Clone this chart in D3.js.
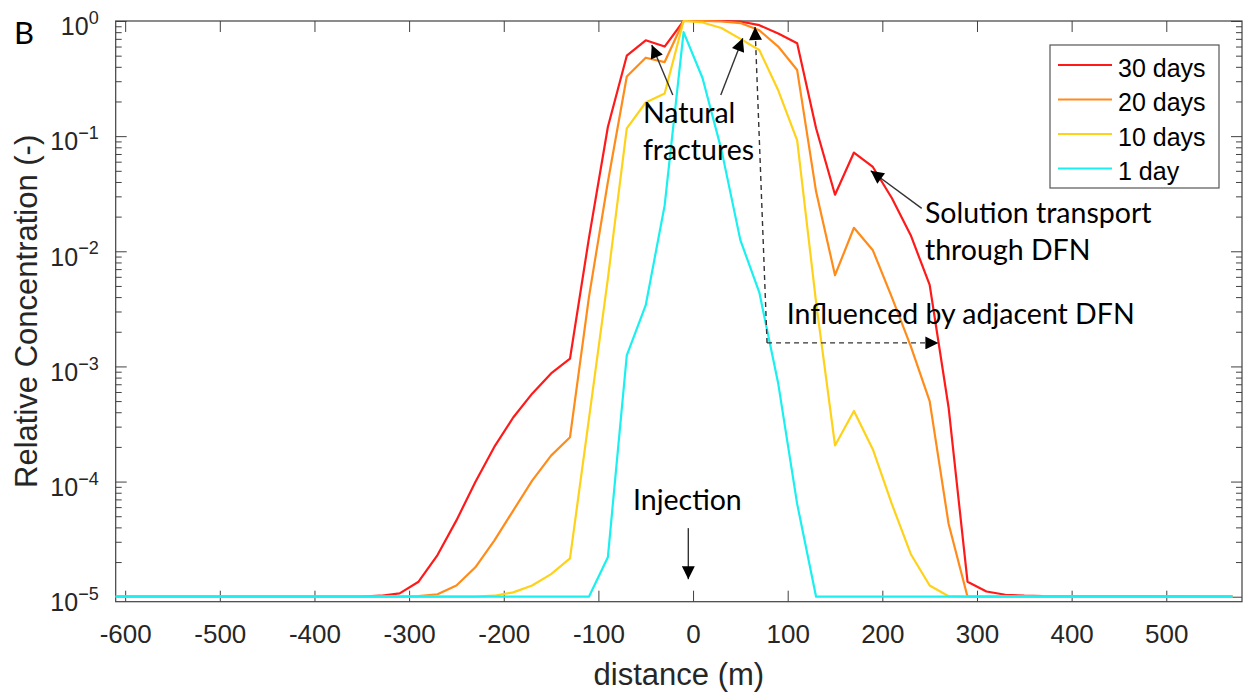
<!DOCTYPE html>
<meta charset="utf-8">
<style>

body { margin: 0; background: #fff; }

.axis text {
  font-family: "Liberation Sans", Arial, sans-serif;
  fill: #262626;
}

.axis line, .axis path { stroke: #404040; }

.curve {
  fill: none;
  stroke-width: 2.2;
  stroke-linejoin: round;
}

.note {
  font-family: Lato, "Open Sans", sans-serif;
  font-size: 28.5px;
  fill: #000;
}

.pointer { stroke: #333; stroke-width: 1.4; fill: none; }
.dashed { stroke: #333; stroke-width: 1.4; stroke-dasharray: 5,4; fill: none; }

</style>
<svg width="1243" height="696"></svg>
<script src="https://d3js.org/d3.v7.min.js"></script>
<script>

// distance (m) of the model cells shown; the flat 1e-5 tails are kept only at their ends
var distance = [-610, -350, -330, -310, -290, -270, -250, -230, -210, -190, -170, -150,
  -130, -110, -90, -70, -50, -30, -10, 10, 30, 50, 70, 90, 110, 130, 150, 170, 190,
  210, 230, 250, 270, 290, 310, 330, 350, 370, 570];

var days30 = [1e-5, 1e-5, 1.02e-5, 1.07e-5, 1.35e-5, 2.3e-5, 4.6e-5, 9.9e-5, 2.0e-4, 3.6e-4,
  5.8e-4, 8.7e-4, 1.17e-3, 1.3e-2, 0.12, 0.5, 0.68, 0.6, 1.0, 1.0, 1.0, 0.99, 0.92, 0.78,
  0.64, 0.117, 0.031, 0.072, 0.054, 0.029, 0.0138, 0.0051, 4.4e-4, 1.35e-5, 1.11e-5,
  1.04e-5, 1.02e-5, 1.01e-5, 1e-5];

var days20 = [1e-5, 1e-5, 1e-5, 1e-5, 1.01e-5, 1.05e-5, 1.25e-5, 1.8e-5, 3.07e-5, 5.6e-5,
  1.02e-4, 1.68e-4, 2.43e-4, 4e-3, 0.04, 0.33, 0.48, 0.44, 1.0, 1.0, 0.99, 0.96, 0.83, 0.6,
  0.375, 0.033, 0.0062, 0.016, 0.0102, 0.004, 0.0015, 5e-4, 4.3e-5, 1e-5, 1e-5,
  1e-5, 1e-5, 1e-5, 1e-5];

var days10 = [1e-5, 1e-5, 1e-5, 1e-5, 1e-5, 1e-5, 1e-5, 1e-5, 1.02e-5, 1.09e-5,
  1.25e-5, 1.57e-5, 2.15e-5, 3.5e-4, 5.8e-3, 0.117, 0.196, 0.235, 1.0, 0.97, 0.87, 0.7, 0.56, 0.25,
  0.092, 3.6e-3, 2.06e-4, 4.1e-4, 1.9e-4, 6.4e-5, 2.35e-5, 1.25e-5, 1.01e-5, 1e-5, 1e-5,
  1e-5, 1e-5, 1e-5, 1e-5];

var day1 = [1e-5, 1e-5, 1e-5, 1e-5, 1e-5, 1e-5, 1e-5, 1e-5, 1e-5, 1e-5,
  1e-5, 1e-5, 1e-5, 1e-5, 2.2e-5, 1.25e-3, 3.4e-3, 0.025, 0.8, 0.32, 0.076, 0.0125, 4.4e-3, 7.1e-4,
  6.4e-5, 1e-5, 1e-5, 1e-5, 1e-5, 1e-5, 1e-5, 1e-5, 1e-5, 1e-5, 1e-5,
  1e-5, 1e-5, 1e-5, 1e-5];

var seriesNames = ["30 days", "20 days", "10 days", "1 day"];
var seriesValues = [days30, days20, days10, day1];
var seriesColors = ["#ff1a1a", "#ff8c1a", "#ffd21a", "#1af0f0"];

var xTicks = [-600, -500, -400, -300, -200, -100, 0, 100, 200, 300, 400, 500];
var yMajor = [1e-5, 1e-4, 1e-3, 1e-2, 1e-1, 1];

var svg = d3.select("svg");

var plotLeft = 115.7, plotRight = 1242, plotTop = 21, plotBottom = 601.7;

var x = d3.scaleLinear()
    .domain([-610, 580])
    .range([plotLeft, plotRight]);

var y = d3.scaleLog()
    .domain([9.05e-6, 1])
    .range([plotBottom, plotTop]);

var yMinor = y.ticks().filter(function(d) {
  return !yMajor.some(function(m) { return Math.abs(m - d) / m < 1e-6; });
});

// axes, ticks pointing inwards like MATLAB
svg.append("g")
    .attr("class", "axis")
    .attr("transform", "translate(0," + plotBottom + ")")
    .call(d3.axisBottom(x).tickValues(xTicks).tickSizeInner(-11).tickSizeOuter(0).tickPadding(23)
      .tickFormat(function(d) { return String(d); }))
    .attr("font-size", 26)
    .select(".domain").remove();

svg.append("g")
    .attr("class", "axis")
    .attr("transform", "translate(0," + plotTop + ")")
    .call(d3.axisTop(x).tickValues(xTicks).tickSizeInner(-11).tickSizeOuter(0).tickFormat(""))
    .select(".domain").remove();

var gy = svg.append("g")
    .attr("class", "axis")
    .attr("transform", "translate(" + plotLeft + ",0)")
    .call(d3.axisLeft(y).tickValues(yMajor).tickSizeInner(-11).tickSizeOuter(0).tickPadding(17))
    .attr("font-size", 25);
gy.select(".domain").remove();

gy.selectAll(".tick text")
    .attr("dy", "0.55em")
    .text(null)
    .each(function(d) {
      var e = Math.round(Math.log10(d));
      var t = d3.select(this);
      t.append("tspan").text("10");
      t.append("tspan")
          .attr("dy", "-0.62em")
          .attr("font-size", "18px")
          .text(e === 0 ? "0" : "\u2212" + Math.abs(e));
    });

svg.append("g")
    .attr("class", "axis")
    .attr("transform", "translate(" + plotLeft + ",0)")
    .call(d3.axisLeft(y).tickValues(yMinor).tickSizeInner(-6).tickSizeOuter(0).tickFormat(""))
    .select(".domain").remove();

svg.append("g")
    .attr("class", "axis")
    .attr("transform", "translate(" + plotRight + ",0)")
    .call(d3.axisRight(y).tickValues(yMajor).tickSizeInner(-11).tickSizeOuter(0).tickFormat(""))
    .select(".domain").remove();

svg.append("g")
    .attr("class", "axis")
    .attr("transform", "translate(" + plotRight + ",0)")
    .call(d3.axisRight(y).tickValues(yMinor).tickSizeInner(-6).tickSizeOuter(0).tickFormat(""))
    .select(".domain").remove();

svg.append("rect")
    .attr("x", plotLeft)
    .attr("y", plotTop)
    .attr("width", plotRight - plotLeft)
    .attr("height", plotBottom - plotTop)
    .attr("fill", "none")
    .attr("stroke", "#404040")
    .attr("stroke-width", 1.2);

// axis titles
svg.append("text")
    .attr("x", (plotLeft + plotRight) / 2)
    .attr("y", 685)
    .attr("text-anchor", "middle")
    .attr("font-family", "Liberation Sans, Arial, sans-serif")
    .attr("font-size", 31)
    .attr("fill", "#262626")
    .text("distance (m)");

svg.append("text")
    .attr("transform", "translate(37," + (plotTop + plotBottom) / 2 + ") rotate(-90)")
    .attr("text-anchor", "middle")
    .attr("font-family", "Liberation Sans, Arial, sans-serif")
    .attr("font-size", 31)
    .attr("fill", "#262626")
    .text("Relative Concentration (-)");

svg.append("text")
    .attr("class", "note")
    .attr("x", 14)
    .attr("y", 44)
    .style("font-size", "31px")
    .text("B");

// curves
var line = d3.line()
    .x(function(d, i) { return x(distance[i]); })
    .y(function(d) { return y(d); });

svg.append("g")
  .selectAll("path")
  .data(seriesValues)
  .enter().append("path")
    .attr("class", "curve")
    .attr("stroke", function(d, i) { return seriesColors[i]; })
    .attr("d", line);

// annotations
var defs = svg.append("defs");
defs.append("marker")
    .attr("id", "head")
    .attr("viewBox", "0 0 10 10")
    .attr("refX", 10)
    .attr("refY", 5)
    .attr("markerUnits", "userSpaceOnUse")
    .attr("markerWidth", 17)
    .attr("markerHeight", 13)
    .attr("orient", "auto")
  .append("path")
    .attr("d", "M0,0L10,5L0,10Z")
    .attr("fill", "#000");

function arrow(x0, y0, x1, y1, cls) {
  svg.append("line")
      .attr("class", cls || "pointer")
      .attr("x1", x(x0)).attr("y1", y(y0))
      .attr("x2", x(x1)).attr("y2", y(y1))
      .attr("marker-end", "url(#head)");
}

function note(px, py, str) {
  svg.append("text")
      .attr("class", "note")
      .attr("x", x(px))
      .attr("y", y(py))
      .text(str);
}

arrow(-21.4, 0.2275, -43.6, 0.62);
arrow(29.3, 0.2275, 52.5, 0.708);
note(-53, 0.13, "Natural");
note(-53, 0.062, "fractures");

arrow(-5, 3.94e-5, -5, 1.42e-5);
svg.append("text")
    .attr("class", "note")
    .attr("x", x(-6))
    .attr("y", y(5.7e-5))
    .attr("text-anchor", "middle")
    .text("Injection");

arrow(241.6, 0.0236, 187.7, 0.050);
note(245, 0.0177, "Solution transport");
note(245, 0.0084, "through DFN");

arrow(78.2, 1.6e-3, 65.5, 0.887, "dashed");
arrow(78.2, 1.6e-3, 259.2, 1.6e-3, "dashed");
note(99, 2.33e-3, "Influenced by adjacent DFN");

// legend
var legend = svg.append("g")
    .attr("transform", "translate(1050,45)");

legend.append("rect")
    .attr("width", 169)
    .attr("height", 143)
    .attr("fill", "#fff")
    .attr("stroke", "#555")
    .attr("stroke-width", 1.2);

var row = legend.selectAll(".row")
  .data(seriesNames)
  .enter().append("g")
    .attr("class", "row")
    .attr("transform", function(d, i) { return "translate(0," + (20 + i * 34.5) + ")"; });

row.append("line")
    .attr("x1", 8)
    .attr("x2", 62)
    .attr("stroke-width", 2.2)
    .attr("stroke", function(d, i) { return seriesColors[i]; });

row.append("text")
    .attr("x", 68)
    .attr("y", 11.5)
    .attr("font-family", "Liberation Sans, Arial, sans-serif")
    .attr("font-size", 25)
    .attr("fill", "#000")
    .text(function(d) { return d; });

</script>
